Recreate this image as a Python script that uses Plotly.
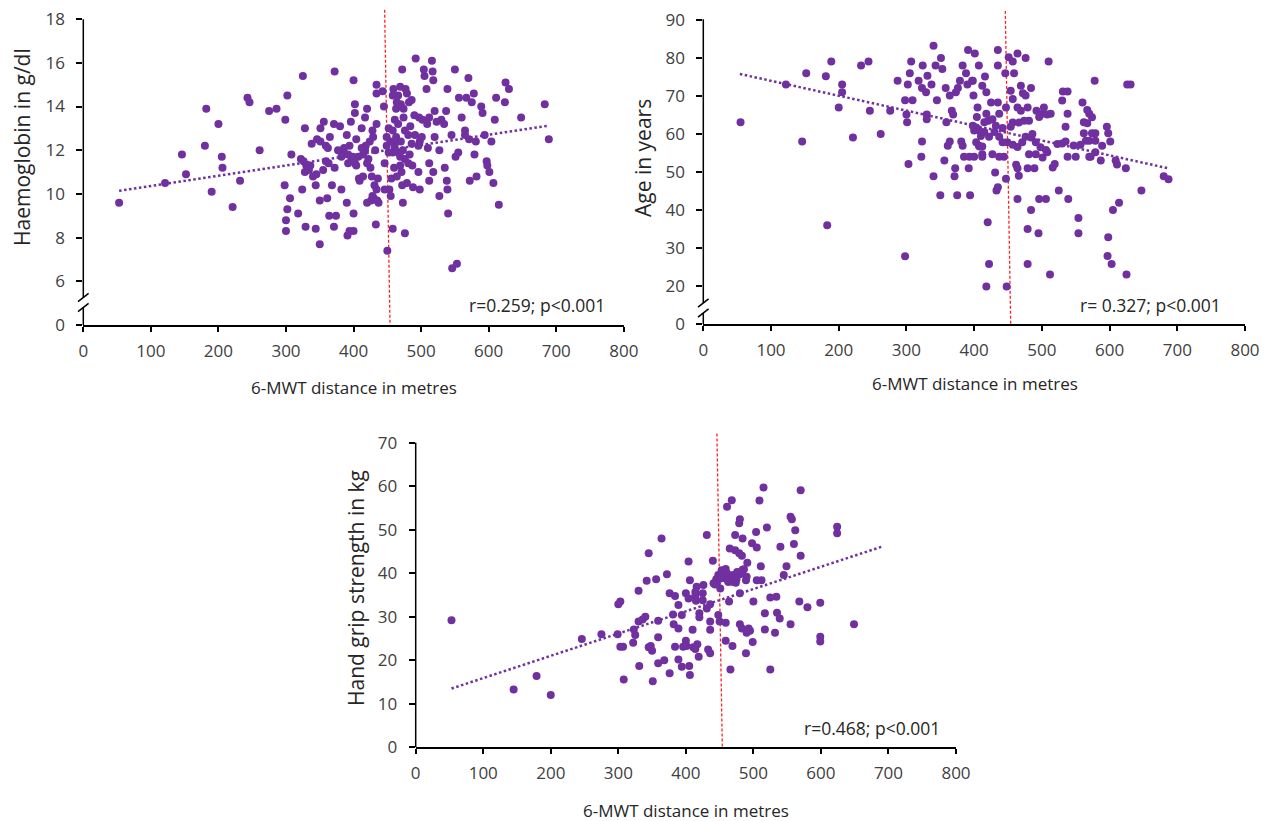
import plotly.graph_objects as go

# ---------------- data ----------------
# Panel 1: haemoglobin (g/dl) vs 6-MWT distance (m)
hb_dist = [53,121,146,152,182,180,190,200,205,206, 221,232,243,246,261,275,286,299,302,308,
           298,306,302,300,300,318,322,324,325,328, 329,330,328,334,338,340,344,344,350,351,
           351,356,359,359,355,350,361,365,368,364, 374,371,371,372,380,377,382,390,390,392,
           394,391,400,400,400,402,402,404,407,404, 408,409,417,417,420,422,428,433,427,428,
           434,434,432,435,
           326,336,345,385,397,412,414,420,425,426, 430,437,386,362,414,424,434,429,392,399,
           402,431,436,434,394,382,418,363,372,346, 412,396,420,
           443,445,449,450,446,446,453,456,458,459, 458,463,464,469,470,472,474,474,479,482,
           486,484,481,466,461,461,466,469,473,476, 481,469,471,479,473,476,458,486,491,492,
           496,497,498,496,498,501,504,505,508,509, 512,512,512,516,517,518,520,520,523,527,
           530,534,535,537,538,539,539,540,546,553, 550,551,555,556,560,565,565,567,570,571,
           572,575,578,579,581,582,589,591,594,597, 598,601,604,607,609,611,615,624,625,630,
           648,683,689,
           452,455,458,463,470,476,483,487,452,460, 464,472,488,455,466,477,490,502,510,518,
           527,545,461,449]
hb_value = [9.6,10.5,11.8,10.9,13.9,12.2,10.1,13.2,11.7,11.2, 9.4,10.6,14.4,14.2,12.0,13.8,13.9,13.4,14.5,11.8,
            10.4,9.8,9.3,8.8,8.3,9.1,11.6,10.2,15.4,13.0, 8.5,11.3,11.0,11.1,12.3,10.8,10.4,8.4,7.7,12.4,
            13.0,13.3,12.2,11.5,11.1,9.7,9.8,12.6,10.4,9.0, 9.0,8.5,13.2,15.6,13.1,12.0,10.2,12.7,9.6,11.4,
            12.2,8.1,8.3,9.1,15.2,14.1,13.7,12.5,11.7,11.3, 10.7,10.6,13.5,12.0,9.6,11.6,9.9,8.6,10.8,12.9,
            15.0,13.2,12.0,9.7,
            11.5,11.3,10.9,11.8,11.6,12.1,11.8,11.4,11.2,9.7, 9.8,9.6,12.1,12.1,10.8,12.4,14.6,12.6,11.8,11.7,
            11.4,10.4,10.7,10.2,8.3,11.7,12.2,11.4,11.2,12.5, 13.0,13.3,13.9,
            14.7,14.0,12.6,7.4,11.4,10.2,10.2,10.7,8.4,14.8, 14.5,13.9,14.2,14.9,14.1,15.7,13.9,13.5,14.6,14.2,
            14.3,13.1,12.7,13.2,12.3,12.1,11.9,11.7,12.0,11.6, 11.4,11.3,11.0,10.5,9.6,8.2,11.9,12.3,12.7,16.2,
            11.0,13.5,10.2,12.2,12.4,12.6,15.7,15.4,14.8,13.2, 13.5,11.4,10.6,16.1,15.6,15.2,13.8,12.6,13.3,9.9,
            13.4,13.2,11.2,13.8,10.6,14.8,10.2,9.1,6.6,6.8, 15.7,11.7,11.9,14.4,13.5,12.9,12.7,14.4,15.3,12.5,
            10.6,14.2,14.6,11.8,12.4,10.8,14.0,13.7,12.7,11.5, 11.3,11.0,12.4,10.5,13.4,14.4,9.5,14.2,15.1,14.8,
            13.5,14.1,12.5,
            11.9,12.4,12.9,12.6,12.4,12.9,11.8,11.3,13.0,11.2, 10.8,10.4,10.3,9.9,14.5,14.8,13.6,13.4,12.1,11.0,
            12.0,12.7,13.4,12.2]
hb_trend_x = [53, 688]
hb_trend_y = [10.14, 13.12]

# Panel 2: age (years) vs 6-MWT distance (m)
age_dist = [55,122,146,152,181,189,183,200,205,205, 221,233,244,246,262,276,287,298,300,301,
            303,298,302,305,307,309,318,324,323,322, 323,329,330,330,331,337,340,340,345,343,
            351,350,353,356,358,359,361,364,364,367, 369,371,372,373,376,375,379,381,383,383,
            385,388,390,391,392,393,394,398,401,399, 403,405,407,407,407,412,415,416,418,420,
            418,422,
            397,412,418,421,400,398,403,408,412,400, 412,410,415,404,
            435,435,451,457,464,476,510,578,626,631, 446,459,425,435,437,447,454,457,469,472,
            476,484,464,469,479,457,466,474,481,492, 496,501,508,513,503,531,538,530,538,535,
            560,567,570,574,562,567,574,579,562,565, 570,579,596,598,601,589,579,572,587,609,
            611,624,680,687,647,614,605,598,597,603, 625,554,554,539,525,496,506,484,479,495,
            479,512,464,448,433,435,447,431,466,462, 464,479,489,516,519,427,437,444,481,491,
            501,508,538,550,570,422,430,437,442,449, 457,464,471,476,484,491,498,506,432,442,
            454,486,523,530,535,547,557,427]
age_value = [63.1,73.0,58.0,76.0,75.2,79.1,36.0,67.0,73.0,71.0, 59.1,78.0,79.1,66.1,60.0,66.1,74.0,27.8,65.1,63.1,
             52.1,68.9,73.0,76.0,79.1,68.9,74.0,78.0,58.0,54.0, 72.1,71.0,65.1,63.9,75.3,73.0,83.2,48.9,68.9,78.0,
             80.0,43.9,77.1,53.0,72.1,63.1,56.9,58.0,70.1,66.1, 65.1,48.9,51.0,71.0,72.1,43.9,74.0,58.0,78.0,56.9,
             54.0,76.0,73.0,82.1,51.0,54.0,43.9,74.0,81.2,70.1, 61.7,67.0,78.0,56.9,61.0,54.7,63.1,75.1,71.0,36.8,
             19.9,25.8,
             74.0,72.7,65.3,63.5,60.9,62.2,57.8,56.7,56.7,54.0, 54.0,59.5,60.5,64.5,
             82.1,78.0,80.2,79.1,81.2,80.0,79.1,74.0,73.0,73.0, 76.0,76.0,68.3,68.3,65.3,67.0,71.4,69.2,72.7,70.7,
             70.1,72.1,67.0,66.1,67.0,63.0,63.0,63.5,63.5,66.1, 64.5,65.3,65.1,65.3,67.0,71.2,71.2,68.8,65.3,61.9,
             68.3,66.3,65.3,64.4,63.1,62.8,60.2,60.2,60.2,58.2, 58.2,58.2,61.9,60.2,58.0,56.9,55.2,54.0,53.0,53.0,
             52.0,51.0,48.9,48.1,45.1,41.9,40.0,32.8,27.9,25.8, 23.0,37.9,33.9,42.9,45.1,42.9,42.9,40.0,35.0,33.9,
             25.8,23.0,42.9,19.9,45.1,46.0,48.2,49.9,49.0,51.9, 51.0,51.0,51.0,51.2,52.1,54.7,54.0,54.0,54.7,54.7,
             53.8,55.2,54.0,54.0,54.0,59.3,60.5,59.3,57.8,57.8, 57.2,56.6,57.8,59.3,59.1,57.8,56.5,55.8,62.2,61.6,
             61.9,60.0,57.4,57.5,58.0,57.0,57.2,63.9]
age_trend_x = [54, 686]
age_trend_y = [75.8, 51.0]

# Panel 3: hand grip strength (kg) vs 6-MWT distance (m)
grip_dist = [53,145,179,200,246,275,300,303,299,303, 307,308,323,322,325,330,331,330,336,340,
             342,345,345,350,348,351,356,359,359,359, 368,364,372,376,376,384,381,382,389,389,
             384,389,
             515,570,468,461,509,480,479,555,557,562, 520,504,624,624,473,484,498,505,431,465,
             473,479,483,560,540,570,549,545,511,491, 486,483,440,404,448,456,461,466,470,463,
             459,446,451,480,490,489,505,512,426,416, 414,406,394,464,480,500,525,534,568,580,
             599,649,599,599,517,535,539,555,517,532, 480,483,493,490,495,499,489,459,469,466,
             525,448,450,459,436,436,420,420,433,436, 419,405,406,394,400,401,411,414,417,396,
             410,400,404,414,415,425,425,431,436,441, 443,445,451,453,459,461,462,465,470,475,
             476,484,474]
grip_value = [29.2,13.3,16.4,12.0,24.9,26.0,32.9,33.5,26.0,23.1, 23.1,15.6,27.1,24.0,25.8,36.0,18.7,28.9,29.4,30.0,
              38.3,44.6,23.0,22.2,23.3,15.2,38.6,29.1,25.3,19.3, 20.0,48.0,39.8,17.0,35.4,34.8,30.5,28.3,27.3,32.7,
              23.1,20.2,
              59.7,59.1,56.8,55.3,56.7,52.4,51.5,53.0,52.4,49.9, 50.5,49.5,50.7,49.2,48.8,48.0,46.9,45.9,48.8,45.7,
              45.3,44.6,44.0,46.7,46.1,44.0,41.6,39.6,41.6,42.4, 40.9,40.3,42.9,42.7,39.6,39.8,39.2,38.8,38.0,38.0,
              38.8,37.7,36.5,39.8,39.2,38.4,38.4,38.4,37.3,36.9, 35.7,38.4,30.4,33.5,35.4,33.5,34.4,34.6,33.5,32.2,
              33.2,28.3,25.4,24.3,30.8,30.9,29.6,28.3,27.1,26.3, 28.3,27.3,27.3,26.3,26.8,24.2,21.6,24.5,23.3,17.9,
              17.9,30.4,28.9,28.6,28.9,27.0,30.8,29.9,22.5,21.6, 20.8,18.7,16.6,18.5,24.5,23.3,23.0,22.6,23.7,23.1,
              27.0,35.4,34.2,34.8,33.7,33.8,35.4,31.9,32.9,37.7, 37.4,38.6,38.8,40.7,41.0,40.0,38.4,39.3,39.6,38.6,
              40.3,40.8,37.8]
grip_trend_x = [53, 692]
grip_trend_y = [13.5, 46.2]

# vertical reference line (6-MWT distance), top and bottom ends
ref_line_x = [446, 454]

x_ticks = [0, 100, 200, 300, 400, 500, 600, 700, 800]
hb_tickvals = [4, 6, 8, 10, 12, 14, 16, 18]
hb_ticktext = ["0", "6", "8", "10", "12", "14", "16", "18"]
age_tickvals = [10, 20, 30, 40, 50, 60, 70, 80, 90]
age_ticktext = ["0", "20", "30", "40", "50", "60", "70", "80", "90"]
grip_tickvals = [0, 10, 20, 30, 40, 50, 60, 70]

titles_y = ["Haemoglobin in g/dl", "Age in years", "Hand grip strength in kg"]
title_x = "6-MWT distance in metres"
stats = ["r=0.259; p<0.001", "r= 0.327; p<0.001", "r=0.468; p<0.001"]

assert len(hb_dist) == len(hb_value)
assert len(age_dist) == len(age_value)
assert len(grip_dist) == len(grip_value)

# ---------------- layout helpers ----------------
# the page body keeps an 8px margin, so the plot div starts at (8, 8)
BODY = 8
W, H = 1275 - BODY, 821 - BODY
def px(x):
    return (x - BODY) / W
def py(y):
    return 1 - (y - BODY) / H

PURPLE = "#7030A0"
FONT = "Open Sans"
TICKC = "#404040"

fig = go.Figure()

panels = [
    ("x", "y", hb_dist, hb_value, hb_trend_x, hb_trend_y),
    ("x2", "y2", age_dist, age_value, age_trend_x, age_trend_y),
    ("x3", "y3", grip_dist, grip_value, grip_trend_x, grip_trend_y),
]
for xa, ya, xs, ys, tx, ty in panels:
    fig.add_trace(go.Scatter(x=tx, y=ty, mode="lines", xaxis=xa, yaxis=ya,
                             line=dict(color=PURPLE, width=2.5, dash="2.5px,2.5px"),
                             showlegend=False, hoverinfo="skip"))
    fig.add_trace(go.Scatter(x=xs, y=ys, mode="markers", xaxis=xa, yaxis=ya,
                             marker=dict(color=PURPLE, size=8, line=dict(width=0)),
                             showlegend=False))

xaxis_common = dict(range=[0, 800], tickvals=x_ticks, showgrid=False, zeroline=False,
                    showline=True, linecolor="black", linewidth=1.5,
                    ticks="outside", ticklen=5, tickwidth=1.5, tickcolor="black",
                    tickfont=dict(family=FONT, size=17, color=TICKC),
                    ticklabelstandoff=5, ticklabeloverflow="allow", automargin=False)
yaxis_common = dict(showgrid=False, zeroline=False, showline=False,
                    ticks="outside", ticklen=6, tickwidth=1.5, tickcolor="black",
                    tickfont=dict(family=FONT, size=17, color=TICKC),
                    ticklabelstandoff=8, ticklabeloverflow="allow", automargin=False)

fig.update_layout(
    template="none",
    width=W, height=H,
    margin=dict(l=0, r=0, t=0, b=0, pad=0),
    paper_bgcolor="white", plot_bgcolor="white",
    showlegend=False,
    xaxis=dict(domain=[px(83.3), px(623.8)], anchor="y", **xaxis_common),
    yaxis=dict(domain=[py(325), py(9.3)], anchor="x", range=[4, 18.45],
               tickvals=hb_tickvals, ticktext=hb_ticktext, **yaxis_common),
    xaxis2=dict(domain=[px(703.3), px(1245)], anchor="y2", **xaxis_common),
    yaxis2=dict(domain=[py(324), py(10.5)], anchor="x2", range=[10, 92.5],
                tickvals=age_tickvals, ticktext=age_ticktext, **yaxis_common),
    xaxis3=dict(domain=[px(415.7), px(956)], anchor="y3", **xaxis_common),
    yaxis3=dict(domain=[py(747.3), py(433.15)], anchor="x3", range=[0, 72.2],
                tickvals=grip_tickvals, **yaxis_common),
)

shapes = []
# vertical reference lines
for xa, ya, top, bottom in [("x", "y", 18.43, 4), ("x2", "y2", 92.4, 10), ("x3", "y3", 72.1, 0)]:
    shapes.append(dict(type="line", xref=xa, yref=ya, x0=ref_line_x[0], y0=top,
                       x1=ref_line_x[1], y1=bottom, layer="below",
                       line=dict(color="#FF2020", width=1.3, dash="3px,2px")))

AX = dict(color="black", width=1.5)
def vline(x, y0, y1):
    shapes.append(dict(type="line", xref="paper", yref="paper", x0=px(x), x1=px(x),
                       y0=py(y0), y1=py(y1), line=AX))
def slash(cx, cy):
    shapes.append(dict(type="line", xref="paper", yref="paper",
                       x0=px(cx - 5.3), y0=py(cy + 4.2), x1=px(cx + 5.3), y1=py(cy - 4.2),
                       line=AX))

# panel 1 y axis with break
vline(83.3, 19.3, 297.5); vline(83.3, 307.5, 325)
slash(83.3, 297.5); slash(83.3, 307.5)
# panel 2 y axis with break
vline(703.3, 19.3, 303); vline(703.3, 313, 324)
slash(703.3, 303); slash(703.3, 313)
# panel 3 y axis
vline(415.7, 442.7, 747.3)

fig.update_layout(shapes=shapes)

ann = []
TITLEC = "#262626"
for (x, y), t in zip([(22, 147), (643, 158), (356, 588)], titles_y):
    ann.append(dict(x=px(x), y=py(y), xref="paper", yref="paper", text=t, textangle=-90,
                    showarrow=False, xanchor="center", yanchor="middle",
                    font=dict(family=FONT, size=21, color=TITLEC)))
for (x, y) in [(353.5, 387), (975, 383), (686, 810)]:
    ann.append(dict(x=px(x), y=py(y), xref="paper", yref="paper", text=title_x,
                    showarrow=False, xanchor="center", yanchor="middle",
                    font=dict(family=FONT, size=17, color=TITLEC)))
for (x, y), t in zip([(607, 305), (1223, 305), (942, 728)], stats):
    ann.append(dict(x=px(x), y=py(y), xref="paper", yref="paper", text=t,
                    showarrow=False, xanchor="right", yanchor="middle",
                    font=dict(family=FONT, size=17.5, color=TITLEC)))
fig.update_layout(annotations=ann)

fig.write_html("out.html")
